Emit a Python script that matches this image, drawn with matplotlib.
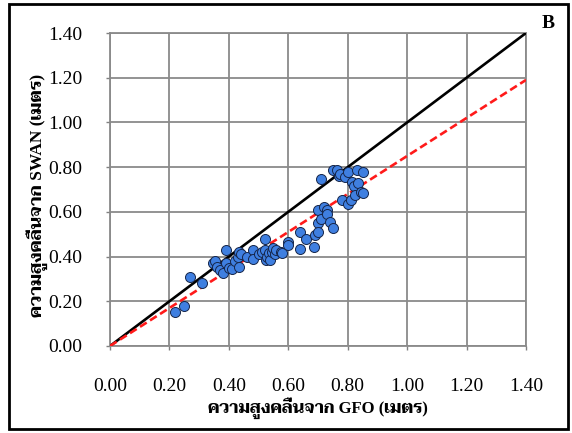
import matplotlib
matplotlib.use('Agg')
import matplotlib.pyplot as plt
from matplotlib.patches import Rectangle
import numpy as np

# wave height from GFO (x) vs SWAN (y), metres
gfo = [0.22, 0.25, 0.27, 0.31, 0.345, 0.355, 0.36, 0.37, 0.38, 0.39, 0.39, 0.40,
       0.41, 0.42, 0.43, 0.435, 0.435, 0.44, 0.46, 0.48, 0.48, 0.50, 0.51, 0.52,
       0.52, 0.525, 0.53, 0.535, 0.54, 0.545, 0.55, 0.555, 0.56, 0.575, 0.58, 0.60,
       0.60, 0.64, 0.64, 0.66, 0.685, 0.69, 0.70, 0.70, 0.70, 0.71, 0.71, 0.72,
       0.73, 0.73, 0.74, 0.75, 0.75, 0.765, 0.77, 0.775, 0.78, 0.79, 0.80, 0.80,
       0.81, 0.815, 0.82, 0.825, 0.83, 0.835, 0.845, 0.85, 0.85]
swan = [0.15, 0.18, 0.31, 0.28, 0.37, 0.38, 0.355, 0.34, 0.325, 0.43, 0.37, 0.35,
        0.345, 0.38, 0.40, 0.42, 0.355, 0.41, 0.40, 0.43, 0.39, 0.41, 0.42, 0.48,
        0.43, 0.385, 0.40, 0.415, 0.385, 0.42, 0.44, 0.41, 0.43, 0.42, 0.415, 0.465,
        0.45, 0.435, 0.51, 0.48, 0.445, 0.495, 0.55, 0.51, 0.61, 0.57, 0.745, 0.62,
        0.61, 0.59, 0.555, 0.53, 0.785, 0.785, 0.76, 0.77, 0.655, 0.755, 0.78, 0.635,
        0.655, 0.735, 0.715, 0.675, 0.785, 0.73, 0.69, 0.78, 0.685]

line_x = [0.0, 1.4]
fit_slope = 0.85   # red dashed regression through origin
ticks = [0.0, 0.2, 0.4, 0.6, 0.8, 1.0, 1.2, 1.4]

serif_thai = ['Liberation Serif', 'Taviraj']

fig = plt.figure(figsize=(5.72, 4.33), dpi=100)
ax = fig.add_axes([110 / 572, 1 - 346 / 433, 416 / 572, 313 / 433])

ax.plot(line_x, line_x, color='black', linewidth=1.9, zorder=3)
ax.plot(line_x, [fit_slope * v for v in line_x], color='#ff1a1a', linewidth=1.9,
        linestyle=(0, (3, 1.5)), zorder=3)
ax.scatter(gfo, swan, s=52, color='#3f7fe0', edgecolors='#16264a', linewidths=0.7, zorder=4)

ax.set_xlim(0, 1.4)
ax.set_ylim(0, 1.4)
ax.set_xticks(ticks)
ax.set_yticks(ticks)
ax.set_xticklabels([f'{t:.2f}' for t in ticks], family=serif_thai, fontsize=14)
ax.set_yticklabels([f'{t:.2f}' for t in ticks], family=serif_thai, fontsize=14)
ax.tick_params(axis='both', direction='out', length=3, width=1, color='#808080')
ax.tick_params(axis='y', pad=17)
ax.tick_params(axis='x', pad=20)

ax.grid(True, color='#8a8a8a', linewidth=1.3)
ax.set_axisbelow(True)
for side in ax.spines.values():
    side.set_color('#8a8a8a')
    side.set_linewidth(1.3)

ax.set_xlabel('ความสูงคลื่นจาก GFO (เมตร)', family=serif_thai, fontsize=12,
              fontweight='bold')
ax.set_ylabel('ความสูงคลื่นจาก SWAN (เมตร)', family=serif_thai, fontsize=12.5,
              fontweight='bold')
ax.xaxis.set_label_coords(0.5, -0.165)
ax.yaxis.set_label_coords(-0.15, 0.48)

fig.text(548 / 572, 1 - 24 / 433, 'B', family=serif_thai, fontsize=14,
         fontweight='bold', ha='center', va='center')

# black frame around the whole figure
fig.patches.append(Rectangle((9 / 572, 4 / 433), 559 / 572, 425 / 433, transform=fig.transFigure,
                             fill=False, edgecolor='black', linewidth=2))

fig.savefig('out.png', dpi=100)
